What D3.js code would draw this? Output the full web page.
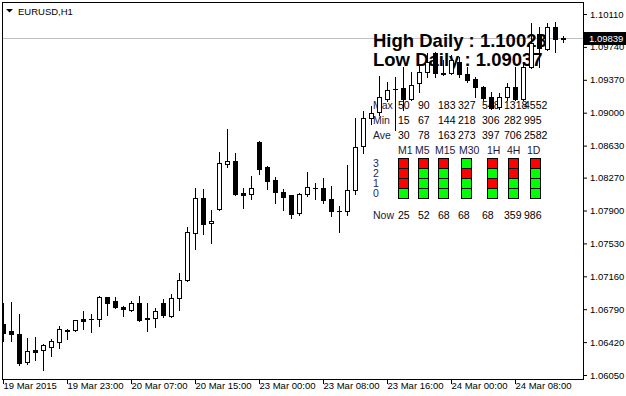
<!DOCTYPE html>
<html>
<head>
<meta charset="utf-8">
<script src="https://cdn.jsdelivr.net/npm/d3@7"></script>
<style>
  html, body { margin: 0; padding: 0; background: #fff; }
  svg { display: block; }
</style>
</head>
<body>
<svg id="chart"></svg>
<script>
// EURUSD H1 candles, oldest first (19 Mar 2015 15:00 .. 24 Mar 2015 14:00)
const open = [1.06624,1.06545,1.06511,1.06193,1.06331,1.06326,1.06368,1.06425,1.06550,1.06559,
  1.06682,1.06680,1.06676,1.06922,1.06877,1.06820,1.06781,1.06858,1.06691,1.06693,
  1.06858,1.06714,1.06913,1.07113,1.07644,1.08037,1.07754,1.07914,1.08420,1.08453,
  1.08097,1.08083,1.08670,1.08389,1.08243,1.08108,1.08071,1.07869,1.08082,1.08148,
  1.08151,1.08027,1.07899,1.07892,1.08128,1.08625,1.08940,1.09008,1.09154,1.09261,
  1.09283,1.09154,1.09334,1.09458,1.09666,1.09452,1.09447,1.09570,1.09435,1.09379,
  1.09289,1.09177,1.09064,1.09177,1.09289,1.09154,1.09514,1.09885,1.09716,1.09964,
  1.09834];
const high = [1.06860,1.06871,1.06736,1.06466,1.06472,1.06402,1.06457,1.06601,1.06571,1.06674,
  1.06770,1.06736,1.06935,1.06927,1.06925,1.06828,1.06877,1.06939,1.06858,1.06807,
  1.06907,1.06961,1.07194,1.07718,1.08153,1.08140,1.07906,1.08555,1.08817,1.08552,
  1.08153,1.08286,1.08679,1.08395,1.08275,1.08140,1.08074,1.08099,1.08333,1.08209,
  1.08266,1.08176,1.07947,1.08412,1.08937,1.09022,1.09075,1.09413,1.09345,1.09401,
  1.09514,1.09458,1.09536,1.09671,1.09683,1.09593,1.09649,1.09626,1.09514,1.09401,
  1.09295,1.09233,1.09222,1.09334,1.09514,1.09570,1.10009,1.09964,1.10009,1.10023,
  1.09863];
const low = [1.06432,1.06432,1.06166,1.06170,1.06222,1.06110,1.06264,1.06354,1.06460,1.06545,
  1.06562,1.06537,1.06601,1.06725,1.06800,1.06714,1.06770,1.06657,1.06548,1.06593,
  1.06699,1.06706,1.06783,1.07107,1.07464,1.07639,1.07529,1.07911,1.08393,1.08080,
  1.07923,1.08024,1.08316,1.08145,1.07988,1.07906,1.07816,1.07844,1.08067,1.08024,
  1.07979,1.07842,1.07662,1.07855,1.08083,1.08550,1.08873,1.08974,1.09137,1.08805,
  1.09030,1.09143,1.09233,1.09401,1.09401,1.09424,1.09435,1.09401,1.09345,1.09177,
  1.09143,1.09036,1.09042,1.09143,1.09143,1.09143,1.09503,1.09514,1.09705,1.09683,
  1.09795];
const close = [1.06526,1.06506,1.06188,1.06317,1.06312,1.06387,1.06430,1.06567,1.06555,1.06665,
  1.06661,1.06684,1.06924,1.06863,1.06818,1.06790,1.06860,1.06672,1.06676,1.06770,
  1.06725,1.06914,1.07113,1.07655,1.08037,1.07752,1.07782,1.08431,1.08453,1.08089,
  1.08080,1.08150,1.08372,1.08237,1.08103,1.08055,1.07863,1.08086,1.08161,1.08152,
  1.08022,1.07898,1.07896,1.08127,1.08614,1.08937,1.08997,1.09177,1.09255,1.09266,
  1.09154,1.09311,1.09458,1.09570,1.09447,1.09437,1.09593,1.09435,1.09368,1.09289,
  1.09165,1.09053,1.09177,1.09289,1.09154,1.09514,1.09784,1.09728,1.09964,1.09834,
  1.09839];

// axis labels
const timeLabels = ["19 Mar 2015", "19 Mar 23:00", "20 Mar 07:00", "20 Mar 15:00", "23 Mar 00:00",
  "23 Mar 08:00", "23 Mar 16:00", "24 Mar 00:00", "24 Mar 08:00"];
const labelEvery = 8; // one time label every 8 bars
const priceTicks = [1.10110, 1.09740, 1.09370, 1.09000, 1.08630, 1.08270, 1.07900,
  1.07530, 1.07160, 1.06790, 1.06420, 1.06050];
const symbol = "EURUSD,H1";
const bidPrice = 1.09839;
const highDaily = 1.10023;
const lowDaily = 1.09037;

// indicator panel
const timeframes = ["M1", "M5", "M15", "M30", "1H", "4H", "1D"];
const maxVals = [50, 90, 183, 327, 548, 1318, 4552];
const minVals = [15, 67, 144, 218, 306, 282, 995];
const aveVals = [30, 78, 163, 273, 397, 706, 2582];
const nowVals = [25, 52, 68, 68, 68, 359, 986];
const levels = [3, 2, 1, 0];
// per timeframe, levels 3..0 : 1 = red, 0 = green
const signals = [[1,1,1,0], [1,0,0,0], [1,0,0,0], [0,1,0,0], [1,0,1,0], [1,1,0,0], [1,0,0,0]];

const settings = {
  width: 626,
  height: 396,
  frame: { left: 2, top: 2, right: 583, bottom: 379 },
  firstBarX: 3,
  barStep: 8,
  priceTop: 14,
  priceBottom: 375,
  font: "'Liberation Sans', Arial, sans-serif",
  panel: {
    labelX: 373,
    valX: [398, 418, 438, 458, 482, 504, 524],
    hdrX: [398, 415, 435, 459, 487, 507, 527],
    boxX: [398, 418, 438, 461, 487, 508, 530],
    boxTop: 158,
    cell: 10
  }
};

const svg = d3.select('#chart')
  .attr('width', settings.width)
  .attr('height', settings.height)
  .style('font-family', settings.font);

const fr = settings.frame;
const n = open.length;

// scales
const xScale = d3.scaleLinear()
  .domain([0, n - 1])
  .range([settings.firstBarX, settings.firstBarX + settings.barStep * (n - 1)]);
const yScale = d3.scaleLinear()
  .domain([d3.min(priceTicks), d3.max(priceTicks)])
  .range([settings.priceBottom, settings.priceTop]);

svg.append('defs').append('clipPath').attr('id', 'plotClip')
  .append('rect')
  .attr('x', fr.left + 1).attr('y', fr.top + 1)
  .attr('width', fr.right - fr.left - 1).attr('height', fr.bottom - fr.top - 1);

// title
svg.append('path')
  .attr('d', 'M6,9 L13,9 L9.5,12.5 Z')
  .attr('fill', '#000');
svg.append('text')
  .attr('x', 18).attr('y', 15)
  .attr('font-size', 9.5)
  .attr('fill', '#000')
  .text(symbol);

// bid line
const bidY = Math.round(yScale(bidPrice)) + 0.5;
svg.append('line')
  .attr('x1', fr.left + 1).attr('x2', fr.right)
  .attr('y1', bidY).attr('y2', bidY)
  .attr('stroke', '#c0c0c0');

// daily high/low labels
const dailyText = svg.append('g')
  .attr('font-size', 18.5)
  .attr('font-weight', 'bold')
  .attr('fill', '#000')
  .style('white-space', 'pre');
dailyText.append('text').attr('x', 373).attr('y', 47)
  .text('High Daily : ' + highDaily.toFixed(5));
dailyText.append('text').attr('x', 373).attr('y', 66)
  .text('Low  Daily : ' + lowDaily.toFixed(5));

// indicator panel
const p = settings.panel;
const rows = [
  { label: 'Max', vals: maxVals, y: 109 },
  { label: 'Min', vals: minVals, y: 124 },
  { label: 'Ave', vals: aveVals, y: 139 },
  { label: 'Now', vals: nowVals, y: 219 }
];
const panel = svg.append('g').attr('font-size', 10.5).attr('fill', '#000');
rows.forEach(r => {
  panel.append('text').attr('x', p.labelX).attr('y', r.y).attr('fill', '#1a1a40').text(r.label);
  panel.selectAll(null)
    .data(r.vals)
    .enter().append('text')
    .attr('x', (d, i) => p.valX[i])
    .attr('y', r.y)
    .text(d => d);
});
panel.selectAll(null)
  .data(timeframes)
  .enter().append('text')
  .attr('x', (d, i) => p.hdrX[i])
  .attr('y', 154)
  .attr('fill', '#1a1a40')
  .text(d => d);
panel.selectAll(null)
  .data(levels)
  .enter().append('text')
  .attr('x', p.labelX)
  .attr('y', (d, k) => p.boxTop + 9 + k * p.cell)
  .attr('font-size', 10.5)
  .attr('fill', '#1f1f66')
  .text(d => d);
signals.forEach((col, j) => {
  panel.selectAll(null)
    .data(col)
    .enter().append('rect')
    .attr('x', p.boxX[j] + 0.5)
    .attr('y', (d, k) => p.boxTop + k * p.cell + 0.5)
    .attr('width', p.cell)
    .attr('height', p.cell)
    .attr('fill', d => d ? '#ff0000' : '#00ff00')
    .attr('stroke', '#000');
});

// candles
const bars = open.map((o, i) => ({ i: i, o: o, h: high[i], l: low[i], c: close[i] }));
const plot = svg.append('g').attr('clip-path', 'url(#plotClip)');
const candle = plot.selectAll('g.candle')
  .data(bars)
  .enter().append('g')
  .attr('class', 'candle');

candle.append('line')
  .attr('x1', d => Math.round(xScale(d.i)) + 0.5)
  .attr('x2', d => Math.round(xScale(d.i)) + 0.5)
  .attr('y1', d => Math.round(yScale(d.h)))
  .attr('y2', d => Math.round(yScale(d.l)) + 1)
  .attr('stroke', '#000');

candle.each(function(d) {
  const cx = Math.round(xScale(d.i));
  const top = Math.round(yScale(Math.max(d.o, d.c)));
  const bot = Math.round(yScale(Math.min(d.o, d.c)));
  const sel = d3.select(this);
  if (bot - top < 1) {
    sel.append('line')
      .attr('x1', cx - 2).attr('x2', cx + 3)
      .attr('y1', top + 0.5).attr('y2', top + 0.5)
      .attr('stroke', '#000');
  } else {
    sel.append('rect')
      .attr('x', cx - 1.5)
      .attr('y', top + 0.5)
      .attr('width', 4)
      .attr('height', bot - top)
      .attr('fill', d.c >= d.o ? '#fff' : '#000')
      .attr('stroke', '#000');
  }
});

// frame
svg.append('rect')
  .attr('x', fr.left + 0.5).attr('y', fr.top + 0.5)
  .attr('width', fr.right - fr.left).attr('height', fr.bottom - fr.top)
  .attr('fill', 'none')
  .attr('stroke', '#000');

// price axis
const yAxis = d3.axisRight(yScale)
  .tickValues(priceTicks)
  .tickSize(3)
  .tickPadding(3)
  .tickFormat(d3.format('.5f'));
const yg = svg.append('g')
  .attr('transform', 'translate(' + [fr.right + 1, 0] + ')')
  .call(yAxis);
yg.select('.domain').remove();
yg.selectAll('text').attr('font-size', 9.5).attr('font-family', settings.font).attr('fill', '#000');
yg.selectAll('line').attr('stroke', '#000');

// time axis
const timeIdx = timeLabels.map((t, k) => k * labelEvery);
const xAxis = d3.axisBottom(xScale)
  .tickValues(timeIdx)
  .tickSize(4)
  .tickFormat((d, k) => timeLabels[k]);
const xg = svg.append('g')
  .attr('transform', 'translate(' + [0, fr.bottom + 1] + ')')
  .call(xAxis);
xg.select('.domain').remove();
xg.selectAll('text')
  .attr('font-size', 9.5)
  .attr('font-family', settings.font)
  .attr('fill', '#000')
  .attr('text-anchor', 'start')
  .attr('x', 0)
  .attr('y', 2)
  .attr('dy', '0.71em');
xg.selectAll('line').attr('stroke', '#000');

// bid label
svg.append('rect')
  .attr('x', fr.right + 1).attr('y', bidY - 6.5)
  .attr('width', 42).attr('height', 13)
  .attr('fill', '#000');
svg.append('text')
  .attr('x', fr.right + 6).attr('y', bidY + 3.5)
  .attr('font-size', 9.5)
  .attr('fill', '#fff')
  .text(bidPrice.toFixed(5));
</script>
</body>
</html>
